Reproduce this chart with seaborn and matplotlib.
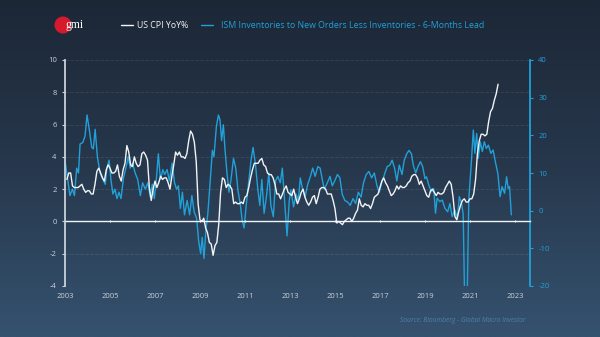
import numpy as np
import pandas as pd
import matplotlib
matplotlib.use("Agg")
import matplotlib.pyplot as plt
import seaborn as sns
from matplotlib.patches import Ellipse
from matplotlib.colors import LinearSegmentedColormap

# ---------------- data ----------------
cpi_start_year = 2003
cpi_yoy = [
    2.6, 3.0, 3.0, 2.2, 2.1, 2.1, 2.1, 2.2, 2.3, 2.0, 1.8, 1.9,   # 2003
    1.9, 1.7, 1.7, 2.3, 3.1, 3.3, 3.0, 2.7, 2.5, 3.2, 3.5, 3.3,   # 2004
    3.0, 3.0, 3.1, 3.5, 2.8, 2.5, 3.2, 3.6, 4.7, 4.3, 3.5, 3.4,   # 2005
    4.0, 3.6, 3.4, 3.5, 4.2, 4.3, 4.1, 3.8, 2.1, 1.3, 2.0, 2.5,   # 2006
    2.1, 2.4, 2.8, 2.6, 2.7, 2.7, 2.4, 2.0, 2.8, 3.5, 4.3, 4.1,   # 2007
    4.3, 4.0, 4.0, 3.9, 4.2, 5.0, 5.6, 5.4, 4.9, 3.7, 1.1, 0.1,   # 2008
    0.0, 0.2, -0.4, -0.7, -1.3, -1.4, -2.1, -1.5, -1.3, -0.2, 1.8, 2.7,  # 2009
    2.6, 2.1, 2.3, 2.2, 2.0, 1.1, 1.2, 1.1, 1.1, 1.2, 1.1, 1.5,   # 2010
    1.6, 2.1, 2.7, 3.2, 3.6, 3.6, 3.6, 3.8, 3.9, 3.5, 3.4, 3.0,   # 2011
    2.9, 2.9, 2.7, 2.3, 1.7, 1.7, 1.4, 1.7, 2.0, 2.2, 1.8, 1.7,   # 2012
    1.6, 2.0, 1.5, 1.1, 1.4, 1.8, 2.0, 1.5, 1.2, 1.0, 1.2, 1.5,   # 2013
    1.6, 1.1, 1.5, 2.0, 2.1, 2.1, 2.0, 1.7, 1.7, 1.7, 1.3, 0.8,   # 2014
    -0.1, 0.0, -0.1, -0.2, 0.0, 0.1, 0.2, 0.2, 0.0, 0.2, 0.5, 0.7,  # 2015
    1.4, 1.0, 0.9, 1.1, 1.0, 1.0, 0.8, 1.1, 1.5, 1.6, 1.7, 2.1,   # 2016
    2.5, 2.7, 2.4, 2.2, 1.9, 1.6, 1.7, 1.9, 2.2, 2.0, 2.2, 2.1,   # 2017
    2.1, 2.2, 2.4, 2.5, 2.8, 2.9, 2.9, 2.7, 2.3, 2.5, 2.2, 1.9,   # 2018
    1.6, 1.5, 1.9, 2.0, 1.8, 1.6, 1.8, 1.7, 1.7, 1.8, 2.1, 2.3,   # 2019
    2.5, 2.3, 1.5, 0.3, 0.1, 0.6, 1.0, 1.3, 1.4, 1.2, 1.2, 1.4,   # 2020
    1.4, 1.7, 2.6, 4.2, 5.0, 5.4, 5.4, 5.3, 5.4, 6.2, 6.8, 7.0,   # 2021
    7.5, 7.9, 8.5,                                                # 2022
]

ism_dates = [
    2003.00, 2003.22, 2003.33, 2003.42, 2003.52, 2003.60, 2003.67, 2003.79, 2003.89, 2003.98,
    2004.09, 2004.19, 2004.26, 2004.34, 2004.44, 2004.56, 2004.68, 2004.79, 2004.86, 2004.96,
    2005.04, 2005.13, 2005.22, 2005.31, 2005.40, 2005.49, 2005.60, 2005.72, 2005.81, 2005.90,
    2006.00, 2006.12, 2006.23, 2006.35, 2006.45, 2006.57, 2006.68, 2006.79, 2006.88, 2006.97,
    2007.06, 2007.15, 2007.24, 2007.35, 2007.43, 2007.54, 2007.64, 2007.76, 2007.87, 2007.96,
    2008.04, 2008.13, 2008.22, 2008.31, 2008.43, 2008.54, 2008.64, 2008.74, 2008.85, 2008.94,
    2009.03, 2009.10, 2009.18, 2009.26, 2009.35, 2009.44, 2009.55, 2009.62, 2009.73, 2009.82,
    2009.89, 2009.96, 2010.04, 2010.11, 2010.20, 2010.29, 2010.38, 2010.49, 2010.59, 2010.69,
    2010.80, 2010.87, 2010.96, 2011.07, 2011.17, 2011.27, 2011.36, 2011.47, 2011.57, 2011.66,
    2011.75, 2011.85, 2011.96, 2012.06, 2012.15, 2012.26, 2012.36, 2012.46, 2012.57, 2012.66,
    2012.75, 2012.87, 2012.97,
    2013.04, 2013.16, 2013.27, 2013.37, 2013.46, 2013.56, 2013.67, 2013.79, 2013.91, 2014.01,
    2014.12, 2014.24, 2014.34, 2014.45, 2014.53, 2014.66, 2014.78, 2014.88, 2014.99, 2015.11,
    2015.22, 2015.32, 2015.44, 2015.56, 2015.68, 2015.80, 2015.92, 2016.04, 2016.16, 2016.27,
    2016.39, 2016.51, 2016.63, 2016.75, 2016.87, 2016.97, 2017.08, 2017.20, 2017.32, 2017.44,
    2017.54, 2017.65, 2017.75, 2017.86, 2017.98, 2018.08, 2018.19, 2018.29, 2018.40, 2018.48,
    2018.59, 2018.69, 2018.80, 2018.90, 2019.00,
    2019.07, 2019.17, 2019.29, 2019.39, 2019.47, 2019.54, 2019.66, 2019.77, 2019.89, 2020.01,
    2020.11, 2020.21, 2020.33, 2020.44, 2020.53, 2020.63, 2020.70, 2020.76, 2020.88, 2020.95,
    2021.07, 2021.15, 2021.22, 2021.30, 2021.37, 2021.46, 2021.55, 2021.64, 2021.73, 2021.82,
    2021.93, 2022.03, 2022.13, 2022.24, 2022.34, 2022.43, 2022.54, 2022.63, 2022.70, 2022.76,
    2022.84,
]
ism_values = [
    13.4, 4.0, 5.7, 4.0, 11.3, 10.0, 17.7, 18.1, 19.8, 25.4,
    21.1, 16.8, 16.4, 21.6, 14.3, 10.0, 8.3, 7.0, 11.3, 13.4,
    8.3, 4.4, 5.7, 3.2, 4.9, 3.2, 8.7, 11.7, 14.3, 11.3,
    12.6, 10.0, 8.3, 4.0, 7.4, 5.7, 7.4, 3.6, 7.0, 3.2,
    8.3, 15.1, 8.3, 10.9, 9.6, 10.9, 7.9, 12.6, 7.4, 5.7,
    6.6, 0.6, 4.9, -1.1, 2.7, -1.1, 4.0, -0.3, -2.0, -8.0,
    -11.4, -7.1, -12.7, -5.4, -0.7, 6.6, 16.0, 14.3, 22.4, 25.4,
    24.1, 18.6, 22.8, 16.4, 10.0, 4.9, 8.3, 13.9, 11.3, 5.3,
    1.4, -2.4, -4.6, 2.3, 7.9, 13.4, 16.8, 12.1, 5.7, 1.4,
    8.3, -0.7, 4.0, 10.0, 1.4, -1.6, 7.9, 9.1, 7.4, 11.3,
    3.6, -6.7, 2.7,
    5.5, 1.0, 4.4, 2.7, 8.7, 5.7, 3.6, 7.0, 9.1, 11.3,
    9.1, 11.7, 11.3, 7.9, 5.7, 7.4, 9.1, 6.6, 7.9, 9.6,
    8.7, 4.4, 2.7, 2.3, 1.4, 3.2, 1.9, 4.9, 3.6, 7.4,
    9.6, 10.4, 8.7, 10.0, 6.6, 4.9, 7.4, 9.6, 11.7, 12.1,
    13.4, 11.3, 7.9, 12.1, 9.6, 13.4, 15.1, 16.0, 15.1, 12.1,
    10.0, 11.7, 13.0, 11.7, 8.5,
    9.0, 6.8, 5.0, 5.9, -0.7, 3.3, 2.4, 2.8, 0.6, -0.3,
    1.9, -1.6, 0.2, -2.0, 3.7, 1.9, -1.0, -22.0, -22.0, 3.0,
    13.5, 21.4, 15.2, 20.5, 13.9, 18.3, 15.7, 18.3, 16.5, 17.4,
    15.2, 16.1, 13.0, 9.9, 3.7, 6.4, 4.6, 9.0, 5.9, 6.4,
    -1.1,
]

x_ticks = list(range(2003, 2024, 2))
left_ticks = [-4, -2, 0, 2, 4, 6, 8, 10]
right_ticks = [-20, -10, 0, 10, 20, 30, 40]

cpi_label = "US CPI YoY%"
ism_label = "ISM Inventories to New Orders Less Inventories - 6-Months Lead"
source_text = "Source: Bloomberg - Global Macro Investor"
logo_text = "gmi"

# ---------------- styling ----------------
sns.set_theme(style="dark")
plt.rcParams['font.family'] = ['Open Sans', 'DejaVu Sans']

WHITE = "#f2f4f7"
BLUE = "#22a0d8"
AXIS_GRAY = "#c9d1da"

cpi_df = pd.DataFrame({
    "date": [cpi_start_year + (i + 1) / 12 for i in range(len(cpi_yoy))],
    "value": cpi_yoy,
})
ism_df = pd.DataFrame({"date": ism_dates, "value": ism_values})

fig = plt.figure(figsize=(6.0, 3.37), dpi=100)

# gradient background
bg = fig.add_axes([0, 0, 1, 1], zorder=-10)
grad = np.linspace(0, 1, 256).reshape(-1, 1)
cmap = LinearSegmentedColormap.from_list("bg", ["#1c2736", "#27384d", "#35526f"])
bg.imshow(grad, aspect="auto", cmap=cmap, extent=[0, 1, 0, 1], origin="upper")
bg.set_axis_off()

ax = fig.add_axes([65 / 600, 1 - 286 / 337, 465 / 600, 226 / 337])
ax.set_facecolor("none")
ax2 = ax.twinx()
ax.set_zorder(2)
ax2.set_zorder(1)
ax.patch.set_visible(False)

sns.lineplot(data=ism_df, x="date", y="value", ax=ax2, color=BLUE, lw=1.0,
             estimator=None, sort=False)
sns.lineplot(data=cpi_df, x="date", y="value", ax=ax, color=WHITE, lw=1.0,
             estimator=None, sort=False)

ax.set_xlim(2003.0, 2023.67)
ax.set_ylim(-4, 10)
ax2.set_ylim(-20, 40)

for a in (ax, ax2):
    a.set_xlabel("")
    a.set_ylabel("")

ax.set_xticks(x_ticks)
ax.set_xticklabels([str(t) for t in x_ticks])
ax.set_yticks(left_ticks)
ax.set_yticklabels([str(t) for t in left_ticks])
ax2.set_yticks(right_ticks)
ax2.set_yticklabels([str(t) for t in right_ticks])

ax.tick_params(axis="x", length=0, pad=5, labelsize=5.5, labelcolor=AXIS_GRAY)
ax.tick_params(axis="y", length=2, width=0.8, color=AXIS_GRAY, pad=4,
               labelsize=5.5, labelcolor=AXIS_GRAY, direction="out")
ax2.tick_params(axis="y", length=2, width=0.8, color=BLUE, pad=4,
                labelsize=5.5, labelcolor=BLUE, direction="out")

for a in (ax, ax2):
    for s in a.spines.values():
        s.set_visible(False)
ax.spines["left"].set_visible(True)
ax.spines["left"].set_color(AXIS_GRAY)
ax.spines["left"].set_linewidth(1.3)
ax2.spines["right"].set_visible(True)
ax2.spines["right"].set_color(BLUE)
ax2.spines["right"].set_linewidth(1.3)

ax.grid(False)
ax2.grid(False)
for t in left_ticks:
    if t != 0:
        ax.axhline(t, color="white", alpha=0.10, lw=0.6, ls=(0, (4, 2)), zorder=0)

# zero axis with year ticks
sec = ax.secondary_xaxis(4 / 14)
sec.set_xticks(x_ticks)
sec.tick_params(axis="x", length=2, width=0.8, color=WHITE, labelbottom=False,
                direction="inout")
sec.spines["bottom"].set_color(WHITE)
sec.spines["bottom"].set_linewidth(1.0)
for k in ("top", "left", "right"):
    sec.spines[k].set_visible(False)

# logo
logo = Ellipse((63 / 600, 1 - 25 / 337), width=17 / 600, height=17 / 337,
               transform=fig.transFigure, facecolor="#d51a2e", edgecolor="none", zorder=5)
fig.add_artist(logo)
fig.text(65 / 600, 1 - 25 / 337, logo_text, color="white", fontsize=8.5, va="center",
         ha="left", family=["Liberation Serif", "DejaVu Serif"], zorder=6)

# legend (custom)
ly = 1 - 25 / 337
fig.add_artist(plt.Line2D([121 / 600, 133 / 600], [ly, ly], color=WHITE, lw=1.0,
                          transform=fig.transFigure))
fig.text(137 / 600, ly, cpi_label, color=WHITE, fontsize=6.3, va="center", ha="left")
fig.add_artist(plt.Line2D([201 / 600, 213 / 600], [ly, ly], color=BLUE, lw=1.0,
                          transform=fig.transFigure))
fig.text(221 / 600, ly, ism_label, color=BLUE, fontsize=6.3, va="center", ha="left")

# source
fig.text(400 / 600, 1 - 321 / 337, source_text, color="#4f80aa", fontsize=4.8,
         style="italic", va="center", ha="left")

fig.savefig("out.png", dpi=100)
